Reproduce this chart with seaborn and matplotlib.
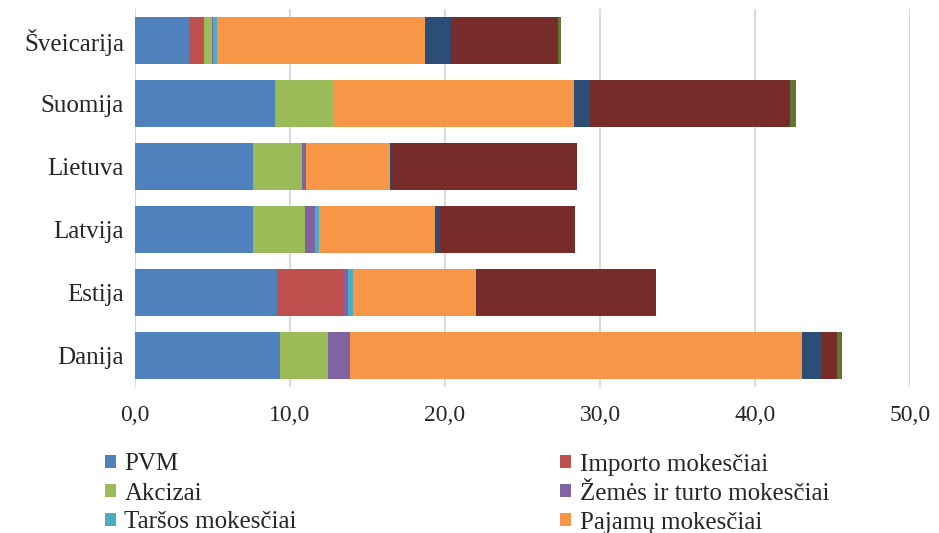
import numpy as np
import pandas as pd
import matplotlib
matplotlib.use("Agg")
import matplotlib.pyplot as plt
from matplotlib.patches import Patch
import seaborn as sns

# data (share of GDP, %)
countries = ["Šveicarija", "Suomija", "Lietuva", "Latvija", "Estija", "Danija"]
pvm      = [3.46, 9.05, 7.61, 7.61, 9.16, 9.35]
importo  = [1.00, 0.00, 0.00, 0.00, 4.32, 0.00]
akcizai  = [0.52, 3.72, 3.14, 3.34, 0.00, 3.12]
zemes    = [0.08, 0.00, 0.28, 0.66, 0.26, 1.40]
tarsos   = [0.20, 0.00, 0.00, 0.26, 0.32, 0.00]
pajamu   = [13.42, 15.53, 5.42, 7.51, 7.94, 29.14]
kiti_1   = [1.70, 1.08, 0.09, 0.28, 0.00, 1.27]
kiti_2   = [6.92, 12.90, 11.96, 8.71, 11.61, 1.03]
kiti_3   = [0.20, 0.34, 0.00, 0.00, 0.00, 0.30]

series_names = ["PVM", "Importo mokesčiai", "Akcizai", "Žemės ir turto mokesčiai",
                "Taršos mokesčiai", "Pajamų mokesčiai", "Kiti 1", "Kiti 2", "Kiti 3"]
series_vals = [pvm, importo, akcizai, zemes, tarsos, pajamu, kiti_1, kiti_2, kiti_3]
colors = ["#4F81BD", "#C0504D", "#9BBB59", "#8064A2", "#4BACC6",
          "#F79646", "#2C4D75", "#772C2A", "#5F7530"]

df = pd.DataFrame(dict(zip(series_names, series_vals)), index=countries)
cum = df.cumsum(axis=1)

sns.set_style("white")
plt.rcParams["font.family"] = ["Liberation Serif", "DejaVu Serif"]

fig = plt.figure(figsize=(9.39, 5.33), dpi=100)
ax = fig.add_axes([135 / 939, 1 - 387 / 533, 775 / 939, 378 / 533])

# stacked bars: draw cumulative totals from the longest down
for name, col in reversed(list(zip(series_names, colors))):
    sns.barplot(x=cum[name].values, y=countries, order=countries, orient="h",
                color=col, width=0.75, linewidth=0, saturation=1, ax=ax, zorder=3)

ax.set_xlim(0, 50)
ax.set_ylim(5.5, -0.5)
ticks = np.arange(0, 51, 10)
ax.set_xticks(ticks)
ax.set_xticklabels([f"{t:.1f}".replace(".", ",") for t in ticks])
ax.grid(axis="x", color="#D9D9D9", linewidth=1.5, zorder=0)
ax.grid(axis="y", visible=False)
for s in ax.spines.values():
    s.set_visible(False)
ax.tick_params(axis="x", length=0, pad=13, labelsize=17)
ax.tick_params(axis="y", length=0, pad=8, labelsize=18)
ax.set_xlabel("")
ax.set_ylabel("")

# legend in row order, two columns
idx = [0, 2, 4, 1, 3, 5]
handles = [Patch(facecolor=colors[i], edgecolor="none") for i in idx]
labels = [series_names[i] for i in idx]
fig.legend(handles, labels, ncol=2, loc="upper left", bbox_to_anchor=(92 / 939, 1 - 441 / 533),
           frameon=False, fontsize=18, handlelength=0.45, handleheight=0.45,
           handletextpad=0.35, columnspacing=10.5, labelspacing=0.28, borderpad=0)

fig.savefig("out.png", dpi=100)
